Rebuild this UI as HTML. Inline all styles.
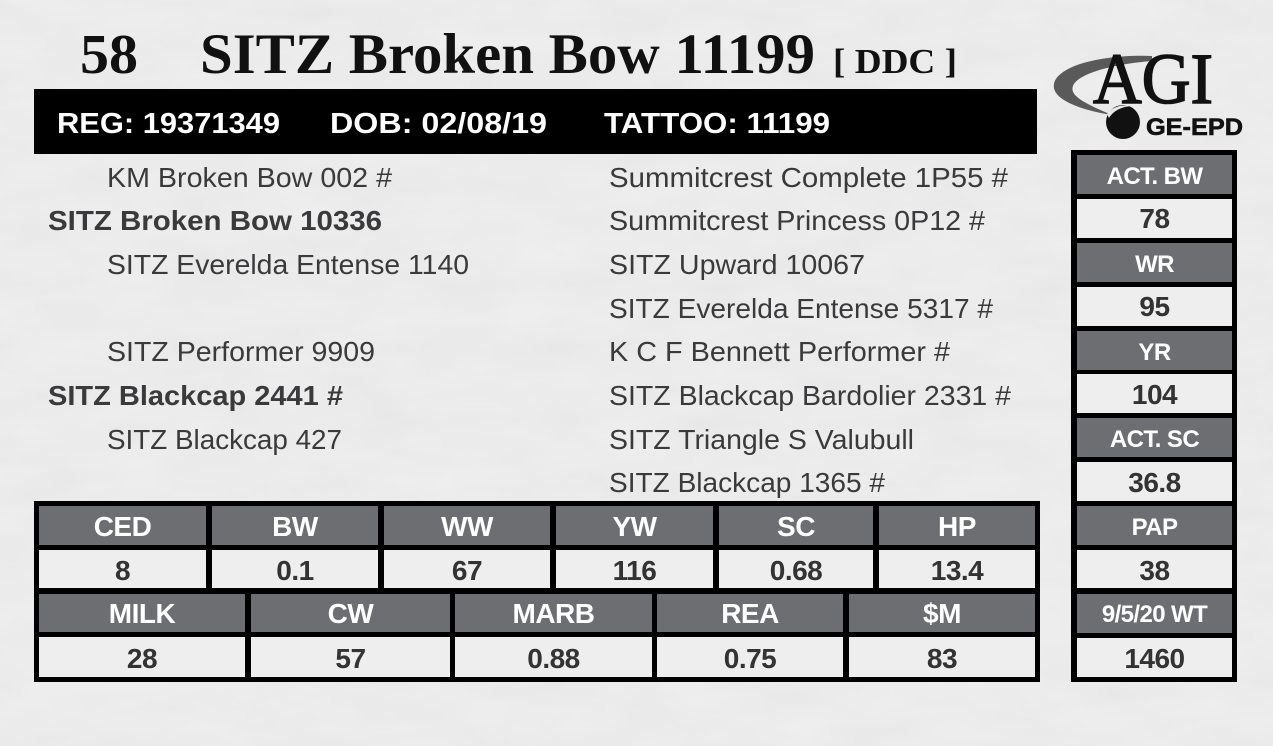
<!DOCTYPE html>
<html>
<head>
<meta charset="utf-8">
<style>
  html, body { margin: 0; padding: 0; background: #eaeaea; }
  svg { display: block; }
  .sans { font-family: "Liberation Sans", "DejaVu Sans", sans-serif; }
  .serif { font-family: "Liberation Serif", "DejaVu Serif", serif; }
</style>
</head>
<body>
<svg width="1273" height="746" viewBox="0 0 1273 746" xmlns="http://www.w3.org/2000/svg">
  <defs>
    <filter id="paper" x="0" y="0" width="100%" height="100%">
      <feTurbulence type="fractalNoise" baseFrequency="0.012 0.03" numOctaves="3" seed="7" result="n"/>
      <feColorMatrix type="matrix" values="0 0 0 0 1  0 0 0 0 1  0 0 0 0 1  0 0 0 0.35 0" in="n"/>
    </filter>
  </defs>

  <!-- background -->
  <rect x="0" y="0" width="1273" height="746" fill="#e7e7e7"/>
  <rect x="0" y="0" width="1273" height="746" filter="url(#paper)"/>

  <!-- Title -->
  <text class="serif" x="80" y="73" font-size="56" font-weight="bold" fill="#111" textLength="58" lengthAdjust="spacingAndGlyphs">58</text>
  <text class="serif" x="200" y="73" font-size="57" font-weight="bold" fill="#111" textLength="615" lengthAdjust="spacingAndGlyphs">SITZ Broken Bow 11199</text>
  <text class="serif" x="833" y="73" font-size="35" font-weight="bold" fill="#111" textLength="124" lengthAdjust="spacingAndGlyphs">[ DDC ]</text>

  <!-- AGI logo -->
  <path d="M1152,56 C1108,54 1058,64 1054,84 C1051,99 1080,110 1112,115 C1086,104 1069,96 1073,86 C1077,74 1112,64 1152,61 Z" fill="#5a5a5a"/>
  <text class="serif" x="1093" y="103" font-size="72" fill="#111" stroke="#111" stroke-width="1.6" textLength="120" lengthAdjust="spacingAndGlyphs">AGI</text>
  <circle cx="1123" cy="122" r="17" fill="#111"/>
  <path d="M1107,114 C1112,107 1122,104 1131,106 C1122,107 1114,110 1109,118 Z" fill="#e7e7e7"/>
  <text class="sans" x="1146" y="135" font-size="24" font-weight="bold" fill="#111" stroke="#111" stroke-width="0.6" textLength="97" lengthAdjust="spacingAndGlyphs">GE-EPD</text>

  <!-- Black info bar -->
  <rect x="34" y="89" width="1003" height="65" fill="#000"/>
  <text class="sans" x="57" y="133" font-size="29" font-weight="bold" fill="#fff" textLength="223" lengthAdjust="spacingAndGlyphs">REG: 19371349</text>
  <text class="sans" x="330" y="133" font-size="29" font-weight="bold" fill="#fff" textLength="217" lengthAdjust="spacingAndGlyphs">DOB: 02/08/19</text>
  <text class="sans" x="604" y="133" font-size="29" font-weight="bold" fill="#fff" textLength="226" lengthAdjust="spacingAndGlyphs">TATTOO: 11199</text>

  <!-- Pedigree left -->
  <g class="sans" font-size="28" fill="#3a3a3c">
    <text x="107" y="187" textLength="285" lengthAdjust="spacingAndGlyphs">KM Broken Bow 002 #</text>
    <text x="48" y="230" font-weight="bold" textLength="334" lengthAdjust="spacingAndGlyphs">SITZ Broken Bow 10336</text>
    <text x="107" y="274" textLength="362" lengthAdjust="spacingAndGlyphs">SITZ Everelda Entense 1140</text>
    <text x="107" y="361" textLength="268" lengthAdjust="spacingAndGlyphs">SITZ Performer 9909</text>
    <text x="48" y="405" font-weight="bold" textLength="295" lengthAdjust="spacingAndGlyphs">SITZ Blackcap 2441 #</text>
    <text x="107" y="449" textLength="235" lengthAdjust="spacingAndGlyphs">SITZ Blackcap 427</text>
  </g>

  <!-- Pedigree right -->
  <g class="sans" font-size="28" fill="#3a3a3c">
    <text x="609" y="187" textLength="399" lengthAdjust="spacingAndGlyphs">Summitcrest Complete 1P55 #</text>
    <text x="609" y="230" textLength="376" lengthAdjust="spacingAndGlyphs">Summitcrest Princess 0P12 #</text>
    <text x="609" y="274" textLength="256" lengthAdjust="spacingAndGlyphs">SITZ Upward 10067</text>
    <text x="609" y="318" textLength="384" lengthAdjust="spacingAndGlyphs">SITZ Everelda Entense 5317 #</text>
    <text x="609" y="361" textLength="341" lengthAdjust="spacingAndGlyphs">K C F Bennett Performer #</text>
    <text x="609" y="405" textLength="402" lengthAdjust="spacingAndGlyphs">SITZ Blackcap Bardolier 2331 #</text>
    <text x="609" y="449" textLength="305" lengthAdjust="spacingAndGlyphs">SITZ Triangle S Valubull</text>
    <text x="609" y="492" textLength="276" lengthAdjust="spacingAndGlyphs">SITZ Blackcap 1365 #</text>
  </g>

  <!-- Main EPD table -->
  <rect x="34" y="501" width="1006" height="181" fill="#000"/>
  <g fill="#6d6e71">
    <rect x="39" y="506" width="167" height="39"/>
    <rect x="212" y="506" width="166" height="39"/>
    <rect x="384" y="506" width="166" height="39"/>
    <rect x="556" y="506" width="157" height="39"/>
    <rect x="719" y="506" width="154" height="39"/>
    <rect x="879" y="506" width="156" height="39"/>
  </g>
  <g fill="#eeeeee">
    <rect x="39" y="550" width="167" height="38"/>
    <rect x="212" y="550" width="166" height="38"/>
    <rect x="384" y="550" width="166" height="38"/>
    <rect x="556" y="550" width="157" height="38"/>
    <rect x="719" y="550" width="154" height="38"/>
    <rect x="879" y="550" width="156" height="38"/>
  </g>
  <g fill="#6d6e71">
    <rect x="39" y="594" width="206" height="38"/>
    <rect x="251" y="594" width="199" height="38"/>
    <rect x="455" y="594" width="197" height="38"/>
    <rect x="657" y="594" width="186" height="38"/>
    <rect x="849" y="594" width="186" height="38"/>
  </g>
  <g fill="#eeeeee">
    <rect x="39" y="637" width="206" height="40"/>
    <rect x="251" y="637" width="199" height="40"/>
    <rect x="455" y="637" width="197" height="40"/>
    <rect x="657" y="637" width="186" height="40"/>
    <rect x="849" y="637" width="186" height="40"/>
  </g>

  <g class="sans" font-size="28" font-weight="bold" fill="#fff" text-anchor="middle" letter-spacing="-0.5">
    <text x="122.5" y="536">CED</text>
    <text x="295" y="536">BW</text>
    <text x="467" y="536">WW</text>
    <text x="634.5" y="536">YW</text>
    <text x="796" y="536">SC</text>
    <text x="957" y="536">HP</text>
    <text x="142" y="623">MILK</text>
    <text x="350.5" y="623">CW</text>
    <text x="553.5" y="623">MARB</text>
    <text x="750" y="623">REA</text>
    <text x="942" y="623">$M</text>
  </g>
  <g class="sans" font-size="28" font-weight="bold" fill="#333" text-anchor="middle" letter-spacing="-0.5">
    <text x="122.5" y="580">8</text>
    <text x="295" y="580">0.1</text>
    <text x="467" y="580">67</text>
    <text x="634.5" y="580">116</text>
    <text x="796" y="580">0.68</text>
    <text x="957" y="580">13.4</text>
    <text x="142" y="668">28</text>
    <text x="350.5" y="668">57</text>
    <text x="553.5" y="668">0.88</text>
    <text x="750" y="668">0.75</text>
    <text x="942" y="668">83</text>
  </g>

  <!-- Right column table -->
  <rect x="1071" y="150" width="166" height="532" fill="#000"/>
  <g>
    <rect x="1077" y="155" width="155" height="39" fill="#6d6e71"/>
    <rect x="1077" y="199" width="155" height="39" fill="#eeeeee"/>
    <rect x="1077" y="243" width="155" height="39" fill="#6d6e71"/>
    <rect x="1077" y="287" width="155" height="39" fill="#eeeeee"/>
    <rect x="1077" y="331" width="155" height="39" fill="#6d6e71"/>
    <rect x="1077" y="374" width="155" height="39" fill="#eeeeee"/>
    <rect x="1077" y="418" width="155" height="39" fill="#6d6e71"/>
    <rect x="1077" y="462" width="155" height="39" fill="#eeeeee"/>
    <rect x="1077" y="506" width="155" height="39" fill="#6d6e71"/>
    <rect x="1077" y="550" width="155" height="38" fill="#eeeeee"/>
    <rect x="1077" y="594" width="155" height="39" fill="#6d6e71"/>
    <rect x="1077" y="638" width="155" height="39" fill="#eeeeee"/>
  </g>
  <g class="sans" font-size="24" font-weight="bold" fill="#fff" text-anchor="middle" letter-spacing="-0.6">
    <text x="1154.5" y="184">ACT. BW</text>
    <text x="1154.5" y="272">WR</text>
    <text x="1154.5" y="360">YR</text>
    <text x="1154.5" y="447">ACT. SC</text>
    <text x="1154.5" y="535">PAP</text>
    <text x="1154.5" y="622">9/5/20 WT</text>
  </g>
  <g class="sans" font-size="28" font-weight="bold" fill="#333" text-anchor="middle" letter-spacing="-0.5">
    <text x="1154.5" y="228">78</text>
    <text x="1154.5" y="316">95</text>
    <text x="1154.5" y="404">104</text>
    <text x="1154.5" y="492">36.8</text>
    <text x="1154.5" y="580">38</text>
    <text x="1154.5" y="668">1460</text>
  </g>
</svg>
</body>
</html>
